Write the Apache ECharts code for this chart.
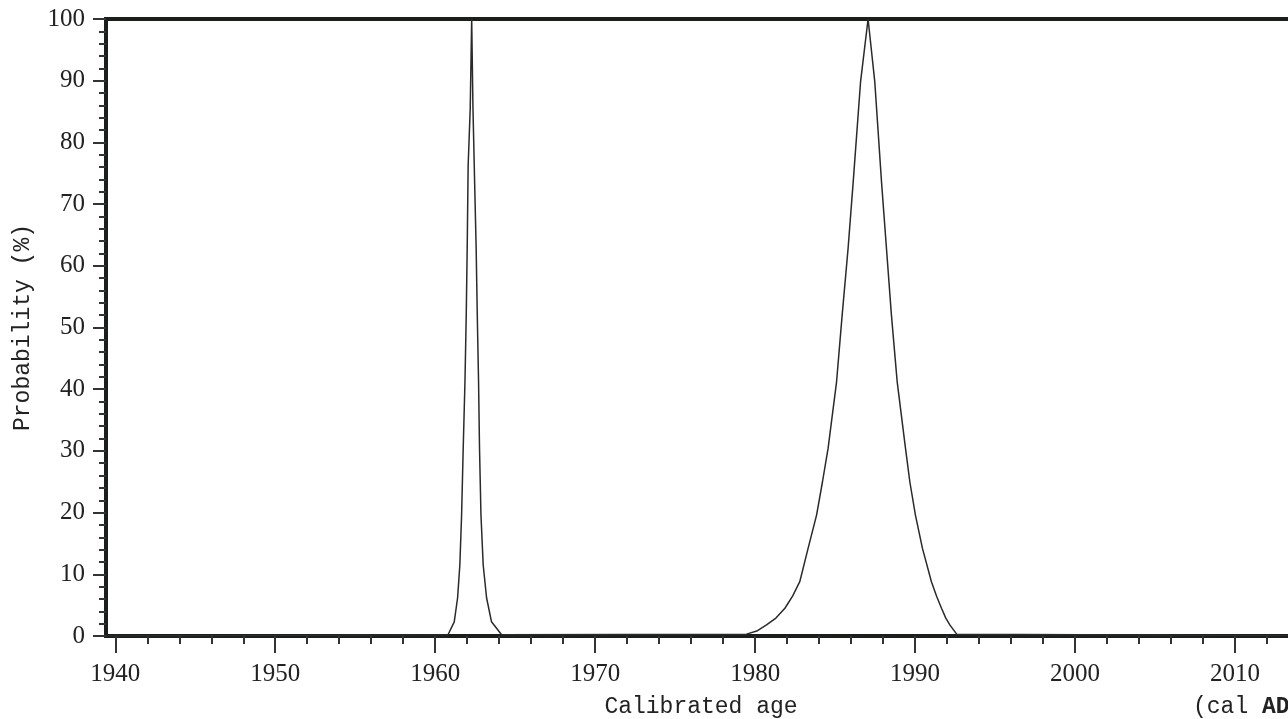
<!DOCTYPE html>
<html>
<head>
<meta charset="utf-8">
<script src="https://cdn.jsdelivr.net/npm/echarts@6/dist/echarts.min.js"></script>
<style>
  html, body { margin: 0; padding: 0; background: #fff; overflow: hidden; width: 1288px; height: 719px; }
  #chart { width: 1400px; height: 719px; }
</style>
</head>
<body>
<div id="chart"></div>
<script>
// narrow peak (~1962)
var years1 = [1960.8, 1961.19, 1961.4, 1961.54, 1961.65, 1961.75, 1961.86, 1961.94, 1962.0, 1962.06, 1962.19, 1962.28,
              1962.36, 1962.44, 1962.56, 1962.63, 1962.71, 1962.77, 1962.86, 1963.0, 1963.21, 1963.52, 1964.15];
var prob1 = [0.2, 2.3, 6.2, 11.5, 19.6, 30.4, 41.2, 52.0, 62.9, 76.3, 85.6, 100,
             85.6, 76.3, 62.9, 52.0, 41.2, 30.4, 19.6, 11.5, 6.2, 2.3, 0.2];

// wide peak (~1987)
var years2 = [1979.46, 1980.1, 1980.71, 1981.3, 1981.86, 1982.35, 1982.79, 1983.31, 1983.84, 1984.21, 1984.56, 1985.09, 1985.44,
              1985.81, 1986.13, 1986.59, 1987.06, 1987.48, 1987.90, 1988.21, 1988.52, 1988.88, 1989.40, 1989.67, 1990.02,
              1990.46, 1991.02, 1991.35, 1991.65, 1991.92, 1992.17, 1992.6];
var prob2 = [0.3, 0.8, 1.8, 2.9, 4.5, 6.5, 8.8, 14.2, 19.6, 25.0, 30.4, 41.2, 52.0,
             62.8, 73.6, 89.8, 100, 89.8, 73.6, 62.8, 52.0, 41.2, 30.4, 25.0, 19.6,
             14.2, 8.8, 6.4, 4.5, 2.9, 1.8, 0.3];

var xMajorTicks = [1940, 1950, 1960, 1970, 1980, 1990, 2000, 2010, 2020];
var xMinorTicks = [1942, 1944, 1946, 1948, 1952, 1954, 1956, 1958, 1962, 1964, 1966, 1968,
                   1972, 1974, 1976, 1978, 1982, 1984, 1986, 1988, 1992, 1994, 1996, 1998,
                   2002, 2004, 2006, 2008, 2012, 2014, 2016, 2018];

var xMin = 1939.42, xMax = 2020;
var axisColor = '#1b1f1b';

var curve = [[xMin, 0]];
years1.forEach(function (y, i) { curve.push([y, prob1[i]]); });
years2.forEach(function (y, i) { curve.push([y, prob2[i]]); });
curve.push([xMax, 0]);

function plain(v) { return String(v); }

var option = {
  animation: false,
  grid: {
    left: 106,
    top: 19,
    bottom: 83,
    right: 5,
    outerBoundsMode: 'none',
    containLabel: false,
    show: true,
    borderWidth: 4,
    borderColor: axisColor,
    backgroundColor: 'transparent'
  },
  xAxis: [{
    type: 'value',
    min: xMin,
    max: xMax,
    axisLine: { show: true, lineStyle: { color: axisColor, width: 4 } },
    axisTick: { show: true, customValues: xMajorTicks, length: 17, lineStyle: { color: '#333', width: 2 } },
    axisLabel: {
      customValues: xMajorTicks,
      formatter: plain,
      margin: 26,
      color: '#222',
      fontFamily: 'Liberation Serif',
      fontSize: 25
    },
    splitLine: { show: false }
  }, {
    type: 'value',
    min: xMin,
    max: xMax,
    position: 'bottom',
    axisLine: { show: false },
    axisTick: { show: true, customValues: xMinorTicks, length: 8, lineStyle: { color: '#333', width: 2 } },
    axisLabel: { show: false },
    splitLine: { show: false }
  }],
  yAxis: {
    type: 'value',
    min: 0,
    max: 100,
    interval: 10,
    name: 'Probability (%)',
    nameLocation: 'middle',
    nameGap: 72,
    nameTextStyle: { fontFamily: 'Liberation Mono', fontSize: 23, color: '#222' },
    axisLine: { show: true, lineStyle: { color: axisColor, width: 4 } },
    axisTick: { show: true, length: 13, lineStyle: { color: '#333', width: 2 } },
    minorTick: { show: true, splitNumber: 5, length: 7, lineStyle: { color: '#333', width: 2 } },
    axisLabel: {
      formatter: plain,
      margin: 21,
      color: '#222',
      fontFamily: 'Liberation Serif',
      fontSize: 25
    },
    splitLine: { show: false }
  },
  graphic: [{
    type: 'text',
    x: 701,
    y: 707,
    style: {
      text: 'Calibrated age',
      font: '23px "Liberation Mono"',
      fill: '#222',
      textAlign: 'center',
      textVerticalAlign: 'middle'
    }
  }, {
    type: 'text',
    x: 1193,
    y: 707,
    style: {
      text: '(cal {b|AD})',
      font: '23px "Liberation Mono"',
      fill: '#222',
      textAlign: 'left',
      textVerticalAlign: 'middle',
      rich: { b: { fontFamily: 'Liberation Mono', fontSize: 23, fontWeight: 'bold', fill: '#222' } }
    }
  }],
  series: [{
    type: 'line',
    xAxisIndex: 0,
    data: curve,
    symbol: 'none',
    lineStyle: { color: '#2a2a2a', width: 1.5 },
    z: 1
  }]
};

echarts.init(document.getElementById('chart')).setOption(option);
</script>
</body>
</html>
